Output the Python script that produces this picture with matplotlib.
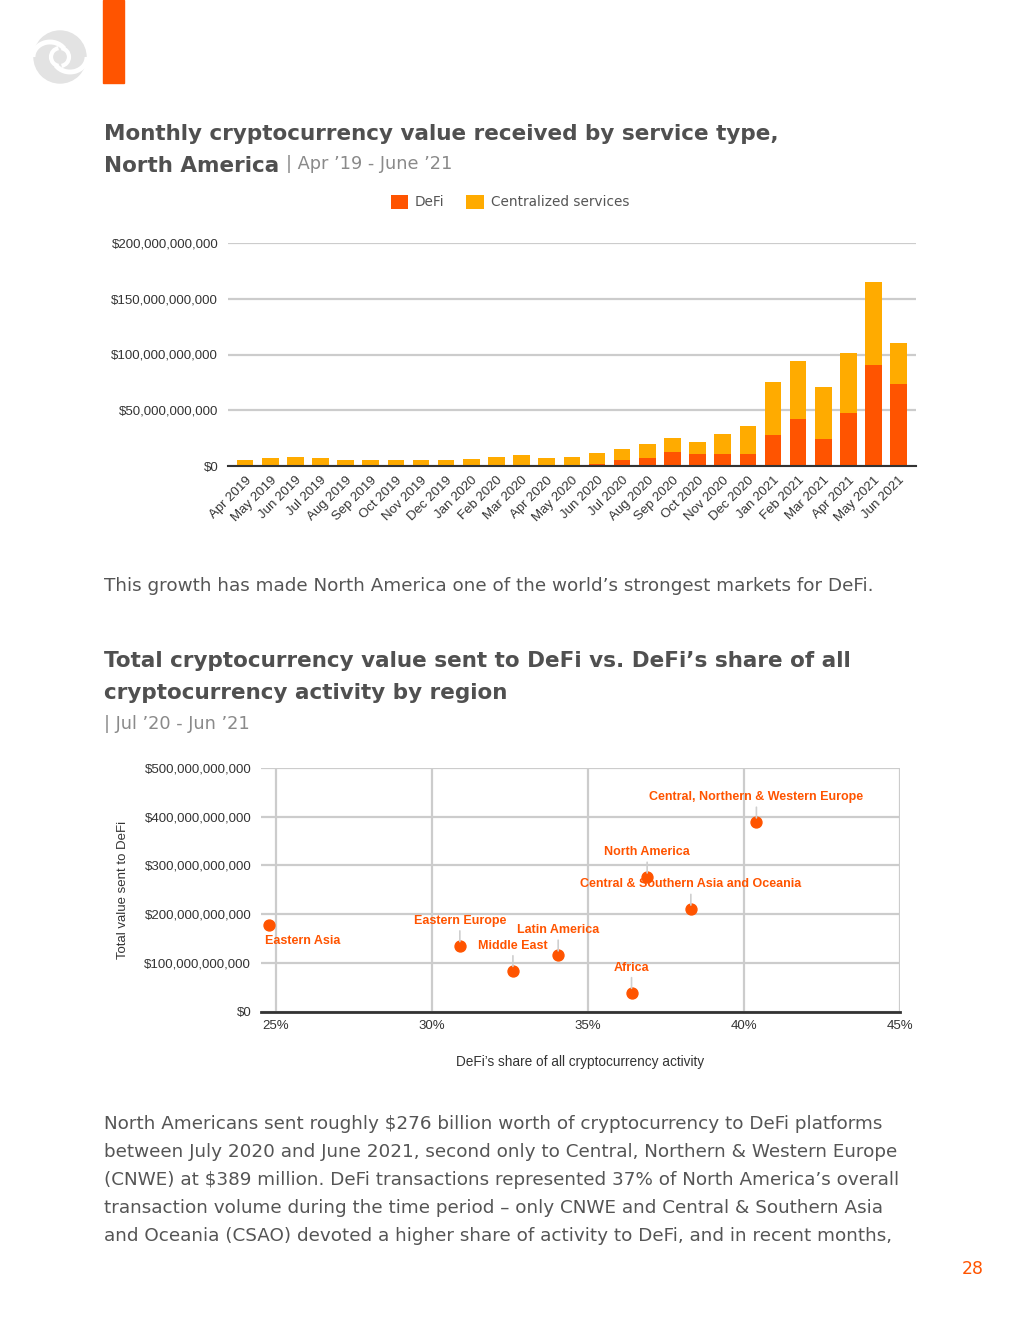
import matplotlib.pyplot as plt
from matplotlib.patches import Circle, Rectangle, Arc
from matplotlib.ticker import FuncFormatter, MultipleLocator

# ---- data: monthly value received, North America (billions USD) ----
months = ['Apr 2019', 'May 2019', 'Jun 2019', 'Jul 2019', 'Aug 2019', 'Sep 2019',
          'Oct 2019', 'Nov 2019', 'Dec 2019', 'Jan 2020', 'Feb 2020', 'Mar 2020',
          'Apr 2020', 'May 2020', 'Jun 2020', 'Jul 2020', 'Aug 2020', 'Sep 2020',
          'Oct 2020', 'Nov 2020', 'Dec 2020', 'Jan 2021', 'Feb 2021', 'Mar 2021',
          'Apr 2021', 'May 2021', 'Jun 2021']
defi_bn = [0.1, 0.1, 0.1, 0.1, 0.1, 0.1, 0.1, 0.2, 0.2, 0.2, 0.3, 0.5,
           0.4, 0.6, 1.5, 5.4, 6.9, 12.6, 10.5, 10.5, 10.5, 27.7, 42.1, 24.0,
           47.8, 90.2, 73.7]
central_bn = [5.3, 6.8, 7.7, 6.8, 5.3, 5.3, 5.3, 5.2, 5.2, 6.1, 7.5, 9.1,
              6.5, 7.2, 9.9, 9.6, 12.6, 12.4, 10.9, 18.1, 25.3, 47.8, 52.3, 47.0,
              53.9, 74.6, 37.0]

# ---- data: DeFi by region, Jul '20 - Jun '21 ----
regions = ['Eastern Asia', 'Eastern Europe', 'Middle East', 'Latin America', 'Africa',
           'North America', 'Central & Southern Asia and Oceania',
           'Central, Northern & Western Europe']
defi_share_pct = [24.8, 30.9, 32.6, 34.05, 36.4, 36.9, 38.3, 40.4]
defi_sent_bn = [178, 135, 84, 116, 39, 276, 210, 389]

ORANGE = '#ff5400'
AMBER = '#ffab00'
TITLE = '#505050'

W, H = 1020, 1320
fig = plt.figure(figsize=(W / 100, H / 100), dpi=100)

# page layer in pixel coordinates
bg = fig.add_axes([0, 0, 1, 1])
bg.set_xlim(0, W)
bg.set_ylim(H, 0)
bg.axis('off')

# logo + orange tab
bg.add_patch(Circle((60, 57), 26, color='#e3e3e3'))
bg.add_patch(Arc((50, 57), 34, 30, theta1=180, theta2=330, color='white', lw=3.5))
bg.add_patch(Arc((70, 57), 34, 30, theta1=0, theta2=150, color='white', lw=3.5))
bg.add_patch(Arc((60, 57), 18, 18, theta1=100, theta2=260, color='white', lw=3))
bg.add_patch(Arc((60, 57), 18, 18, theta1=280, theta2=80, color='white', lw=3))
bg.add_patch(Rectangle((103, 0), 21, 83, color=ORANGE))

head = dict(family='DejaVu Sans', weight='bold', color=TITLE, fontsize=15.5)
sub = dict(family='DejaVu Sans', color='#8a8a8a', fontsize=12.8)
body = dict(family='DejaVu Sans', color='#555555', fontsize=13.2)

bg.text(104, 140, 'Monthly cryptocurrency value received by service type,', **head)
t1 = bg.text(104, 172, 'North America', **head)
bg.annotate("| Apr \u201919 - June \u201921", xy=(1, 0), xycoords=t1, xytext=(7, 3),
            textcoords='offset pixels', va='bottom', **sub)

bg.text(104, 591, 'This growth has made North America one of the world\u2019s strongest markets for DeFi.', **body)

bg.text(104, 667, 'Total cryptocurrency value sent to DeFi vs. DeFi\u2019s share of all', **head)
bg.text(104, 699, 'cryptocurrency activity by region', **head)
bg.text(104, 729, "| Jul \u201920 - Jun \u201921", **sub)

para = ['North Americans sent roughly $276 billion worth of cryptocurrency to DeFi platforms',
        'between July 2020 and June 2021, second only to Central, Northern & Western Europe',
        '(CNWE) at $389 million. DeFi transactions represented 37% of North America\u2019s overall',
        'transaction volume during the time period \u2013 only CNWE and Central & Southern Asia',
        'and Oceania (CSAO) devoted a higher share of activity to DeFi, and in recent months,']
for i, line in enumerate(para):
    bg.text(104, 1129 + i * 28, line, **body)

bg.text(984, 1274, '28', ha='right', color=ORANGE, family='DejaVu Sans', fontsize=12.5)

tick_font = dict(family='Liberation Sans', fontsize=9.5, color='#333333')
dollars = FuncFormatter(lambda v, p: '${:,.0f}'.format(v))

# ---- stacked bar chart ----
ax = fig.add_axes([228 / W, 1 - 466 / H, (916 - 228) / W, (466 - 243) / H])
x = range(len(months))
defi = [v * 1e9 for v in defi_bn]
central = [v * 1e9 for v in central_bn]
ax.bar(x, defi, width=0.66, color=ORANGE, label='DeFi')
ax.bar(x, central, width=0.66, bottom=defi, color=AMBER, label='Centralized services')
ax.set_xlim(-0.68, len(months) - 0.31)
ax.set_ylim(0, 200e9)
ax.yaxis.set_major_locator(MultipleLocator(50e9))
ax.yaxis.set_major_formatter(dollars)
ax.grid(axis='y', color='#cccccc', lw=1.6)
ax.set_axisbelow(True)
for s in ['top', 'right', 'left']:
    ax.spines[s].set_visible(False)
ax.spines['bottom'].set_color('#333333')
ax.spines['bottom'].set_linewidth(1.5)
ax.set_xticks(list(x))
ax.set_xticklabels(months, rotation=45, ha='right', va='top', rotation_mode='anchor', **tick_font)
for lab in ax.get_yticklabels():
    lab.set(**tick_font)
ax.tick_params(axis='both', length=0)
ax.tick_params(axis='y', pad=7)
ax.tick_params(axis='x', pad=6)
ax.legend(loc='center', bbox_to_anchor=(510 / W, 1 - 202 / H), bbox_transform=fig.transFigure,
          ncol=2, frameon=False, handlelength=1.3, handleheight=1.3, handletextpad=0.5,
          columnspacing=1.6, prop=dict(family='DejaVu Sans', size=9.8), labelcolor='#555555')

# ---- scatter ----
sx = fig.add_axes([261 / W, 1 - 1011.5 / H, (900 - 261) / W, (1011.5 - 768) / H])
sent = [v * 1e9 for v in defi_sent_bn]
sx.scatter(defi_share_pct, sent, s=62, color=ORANGE, zorder=5, clip_on=False)
sx.set_xlim(24.53, 45)
sx.set_ylim(0, 500e9)
sx.xaxis.set_major_locator(MultipleLocator(5))
sx.yaxis.set_major_locator(MultipleLocator(100e9))
sx.xaxis.set_major_formatter(FuncFormatter(lambda v, p: '{:.0f}%'.format(v)))
sx.yaxis.set_major_formatter(dollars)
sx.grid(color='#cccccc', lw=1.6)
sx.set_axisbelow(True)
for s in ['top', 'right', 'left']:
    sx.spines[s].set_visible(False)
sx.spines['bottom'].set_color('#333333')
sx.spines['bottom'].set_linewidth(2)
sx.tick_params(axis='both', length=0)
sx.tick_params(axis='y', pad=7)
sx.tick_params(axis='x', pad=6)
for lab in sx.get_xticklabels() + sx.get_yticklabels():
    lab.set(**tick_font)
sx.set_xlabel('DeFi\u2019s share of all cryptocurrency activity', family='Liberation Sans',
              fontsize=9.8, color='#333333', labelpad=17)
sx.set_ylabel('Total value sent to DeFi', family='Liberation Sans', fontsize=9.5,
              color='#333333', labelpad=11)

# label placement (pixel offsets from each point)
offsets = {'Eastern Asia': (-4, -16, 'left')}
for name, px, val in zip(regions, defi_share_pct, sent):
    dx, dy, ha = offsets.get(name, (0, 25, 'center'))
    arrow = None if dy < 0 else dict(arrowstyle='-', color='#cfcfcf', lw=1.2, shrinkA=1, shrinkB=3)
    sx.annotate(name, xy=(px, val), xytext=(dx, dy), textcoords='offset pixels',
                ha=ha, va='center', color=ORANGE, family='Liberation Sans', weight='bold',
                fontsize=9, arrowprops=arrow, annotation_clip=False, zorder=6)

fig.savefig('out.png', dpi=100, facecolor='white')
